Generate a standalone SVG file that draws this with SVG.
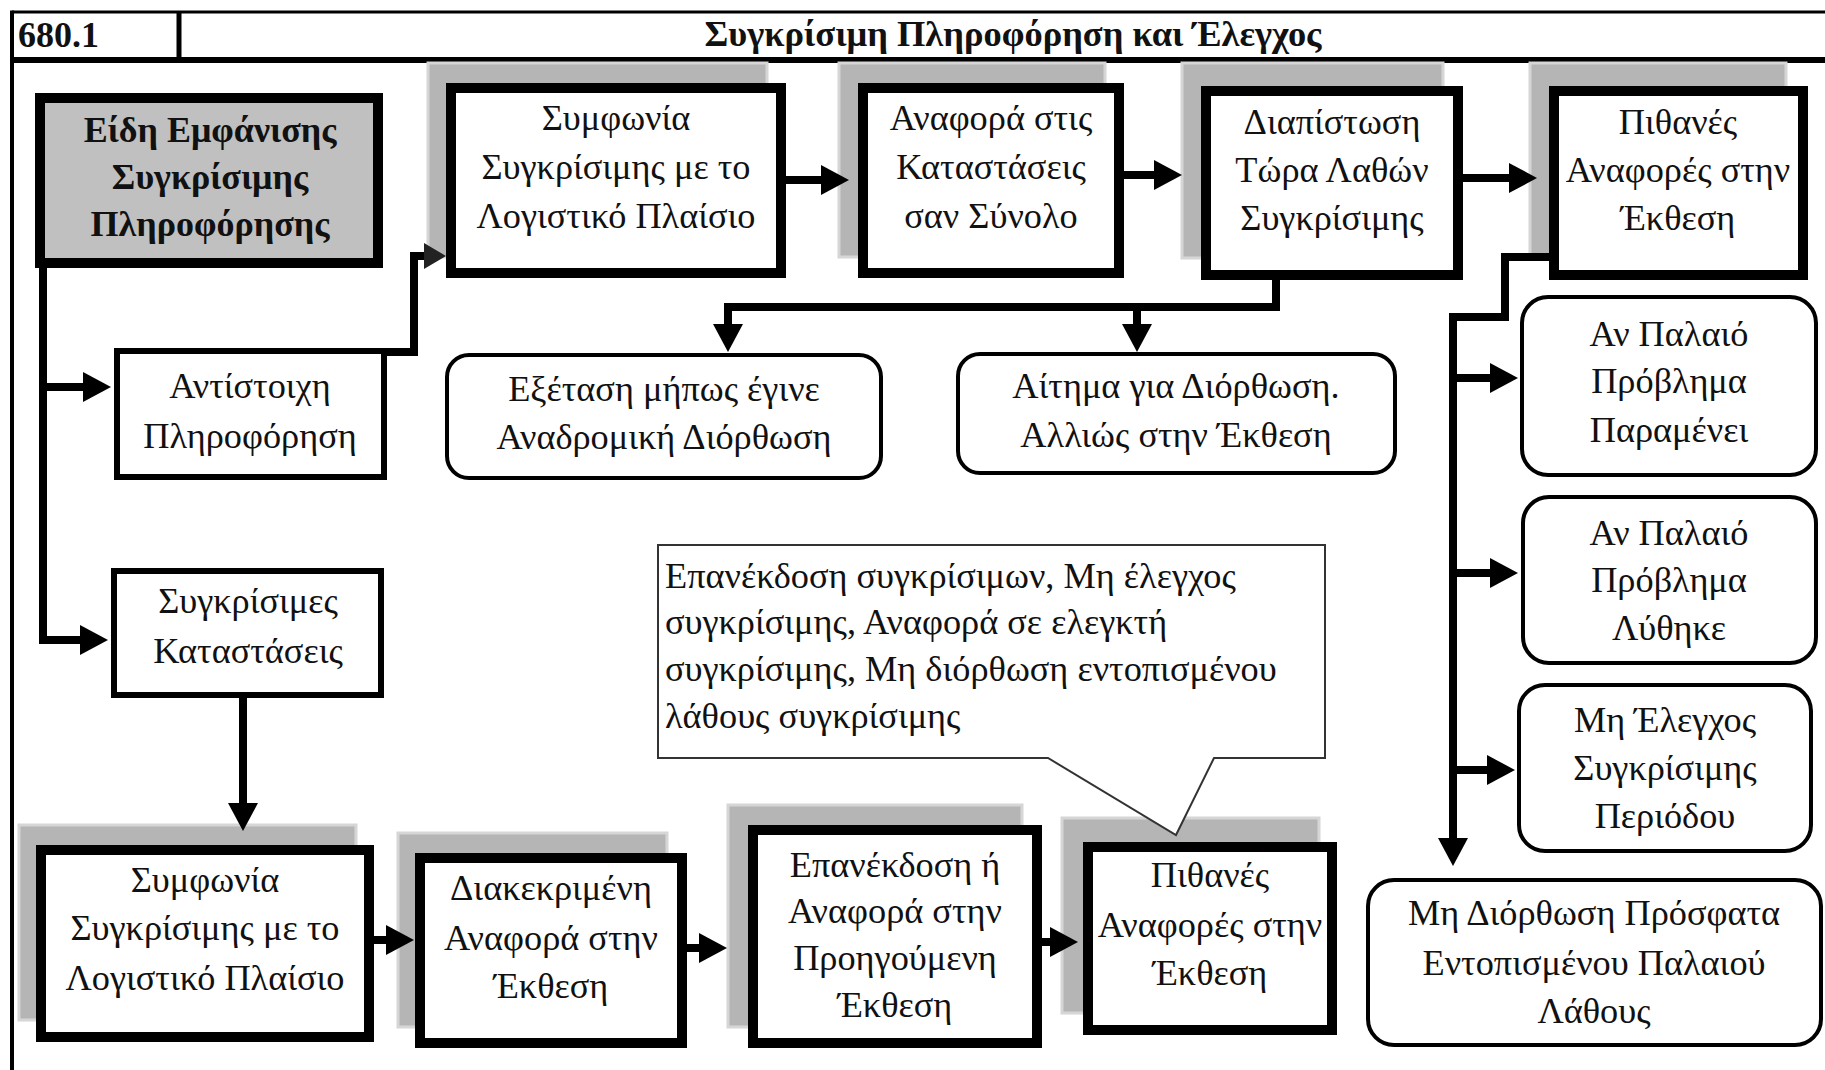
<svg xmlns="http://www.w3.org/2000/svg" width="1825" height="1070" viewBox="0 0 1825 1070">
<style>
.t{font-family:"Liberation Serif","Times New Roman",serif;font-size:36.3px;fill:#111;text-anchor:middle}
.b{font-weight:bold;font-size:36px}
.l{text-anchor:start}
.thick{fill:#fff;stroke:#000;stroke-width:10}
.sh{fill:#b5b5b5;stroke:#d6d6d6;stroke-width:3}
.rnd{fill:#fff;stroke:#000;stroke-width:4}
.pl{fill:#fff;stroke:#000;stroke-width:6}
.cn{fill:none;stroke:#000;stroke-width:8;stroke-linejoin:miter}
.frame{fill:none;stroke:#000}
</style>
<defs>
<marker id="ah" markerUnits="userSpaceOnUse" markerWidth="28" markerHeight="30" viewBox="0 0 28 30" refX="1" refY="15" orient="auto">
<path d="M0 0 L28 15 L0 30 Z" fill="#000"/>
</marker>
<marker id="ahs" markerUnits="userSpaceOnUse" markerWidth="22" markerHeight="26" viewBox="0 0 22 26" refX="1" refY="13" orient="auto">
<path d="M0 0 L22 13 L0 26 Z" fill="#222"/>
</marker>
</defs>
<rect width="1825" height="1070" fill="#fff"/>

<g id="header">
<line class="frame" x1="12" y1="12" x2="1825" y2="12" stroke-width="3"/>
<line class="frame" x1="12" y1="10.5" x2="12" y2="1070" stroke-width="4"/>
<line class="frame" x1="179" y1="12" x2="179" y2="60" stroke-width="5"/>
<line class="frame" x1="10" y1="60" x2="1825" y2="60" stroke-width="6"/>
<text class="t b l" x="18" y="47" font-size="34">680.1</text>
<text class="t b" x="1013" y="46" font-size="34" textLength="617" lengthAdjust="spacingAndGlyphs">Συγκρίσιμη Πληροφόρηση και Έλεγχος</text>
</g>

<g id="shadows">
<rect class="sh" x="428" y="63" width="339" height="194"/>
<rect class="sh" x="839" y="63" width="266" height="194"/>
<rect class="sh" x="1182" y="63" width="261" height="195"/>
<rect class="sh" x="1530" y="63" width="256" height="194"/>
<rect class="sh" x="19" y="825" width="337" height="195"/>
<rect class="sh" x="398" y="833" width="269" height="194"/>
<rect class="sh" x="728" y="805" width="294" height="222"/>
<rect class="sh" x="1062" y="818" width="257" height="195"/>
</g>

<g id="connectors">
<path class="cn" d="M43 266 V644"/>
<path class="cn" d="M43 387 H84" marker-end="url(#ah)"/>
<path class="cn" d="M43 640 H81" marker-end="url(#ah)"/>
<path class="cn" d="M384 352 H414 V256 H425" marker-end="url(#ahs)"/>
<path class="cn" d="M786 180 H822" marker-end="url(#ah)"/>
<path class="cn" d="M1124 175 H1155" marker-end="url(#ah)"/>
<path class="cn" d="M1463 178 H1510" marker-end="url(#ah)"/>
<path class="cn" d="M1276 280 V307 H728 V325" marker-end="url(#ah)"/>
<path class="cn" d="M1137 307 V325" marker-end="url(#ah)"/>
<path class="cn" d="M1549 257 H1505 V317 H1453 V839" marker-end="url(#ah)"/>
<path class="cn" d="M1453 378 H1491" marker-end="url(#ah)"/>
<path class="cn" d="M1453 573 H1491" marker-end="url(#ah)"/>
<path class="cn" d="M1453 770 H1488" marker-end="url(#ah)"/>
<path class="cn" d="M243 698 V804" marker-end="url(#ah)"/>
<path class="cn" d="M374 940 H387" marker-end="url(#ah)"/>
<path class="cn" d="M687 948 H700" marker-end="url(#ah)"/>
<path class="cn" d="M1042 942 H1051" marker-end="url(#ah)"/>
</g>

<g id="n-eidi">
<rect x="40" y="98" width="338" height="165" fill="#c0c0c0" stroke="#000" stroke-width="10"/>
<text class="t b" x="210" y="142">Είδη Εμφάνισης</text>
<text class="t b" x="210" y="189">Συγκρίσιμης</text>
<text class="t b" x="210" y="236">Πληροφόρησης</text>
</g>

<g id="n-symfonia-top">
<rect class="thick" x="451" y="88" width="330" height="185"/>
<text class="t" x="616" y="130">Συμφωνία</text>
<text class="t" x="616" y="179">Συγκρίσιμης με το</text>
<text class="t" x="616" y="228">Λογιστικό Πλαίσιο</text>
</g>

<g id="n-anafora-synolo">
<rect class="thick" x="863" y="88" width="256" height="185"/>
<text class="t" x="991" y="130">Αναφορά στις</text>
<text class="t" x="991" y="179">Καταστάσεις</text>
<text class="t" x="991" y="228">σαν Σύνολο</text>
</g>

<g id="n-diapistosi">
<rect class="thick" x="1206" y="91" width="252" height="184"/>
<text class="t" x="1332" y="134">Διαπίστωση</text>
<text class="t" x="1332" y="182">Τώρα Λαθών</text>
<text class="t" x="1332" y="230">Συγκρίσιμης</text>
</g>

<g id="n-pithanes-top">
<rect class="thick" x="1554" y="91" width="249" height="184"/>
<text class="t" x="1678" y="134">Πιθανές</text>
<text class="t" x="1678" y="182">Αναφορές στην</text>
<text class="t" x="1678" y="230">Έκθεση</text>
</g>

<g id="n-antistoixi">
<rect class="pl" x="117" y="351" width="267" height="126"/>
<text class="t" x="250" y="398">Αντίστοιχη</text>
<text class="t" x="250" y="448">Πληροφόρηση</text>
</g>

<g id="n-katastaseis">
<rect class="pl" x="114" y="571" width="267" height="124"/>
<text class="t" x="248" y="613">Συγκρίσιμες</text>
<text class="t" x="248" y="663">Καταστάσεις</text>
</g>

<g id="n-exetasi">
<rect class="rnd" x="447" y="355" width="434" height="123" rx="22"/>
<text class="t" x="664" y="401">Εξέταση μήπως έγινε</text>
<text class="t" x="664" y="449">Αναδρομική Διόρθωση</text>
</g>

<g id="n-aitima">
<rect class="rnd" x="958" y="354" width="437" height="119" rx="22"/>
<text class="t" x="1176" y="398">Αίτημα για Διόρθωση.</text>
<text class="t" x="1176" y="447">Αλλιώς στην Έκθεση</text>
</g>

<g id="n-paramenei">
<rect class="rnd" x="1522" y="297" width="294" height="178" rx="26"/>
<text class="t" x="1669" y="346">Αν Παλαιό</text>
<text class="t" x="1669" y="393">Πρόβλημα</text>
<text class="t" x="1669" y="442">Παραμένει</text>
</g>

<g id="n-lythike">
<rect class="rnd" x="1523" y="497" width="293" height="166" rx="26"/>
<text class="t" x="1669" y="545">Αν Παλαιό</text>
<text class="t" x="1669" y="592">Πρόβλημα</text>
<text class="t" x="1669" y="640">Λύθηκε</text>
</g>

<g id="n-mi-elegxos">
<rect class="rnd" x="1519" y="685" width="292" height="166" rx="26"/>
<text class="t" x="1665" y="732">Μη Έλεγχος</text>
<text class="t" x="1665" y="780">Συγκρίσιμης</text>
<text class="t" x="1665" y="828">Περιόδου</text>
</g>

<g id="n-mi-diorthosi">
<rect class="rnd" x="1368" y="880" width="453" height="165" rx="26"/>
<text class="t" x="1594" y="925">Μη Διόρθωση Πρόσφατα</text>
<text class="t" x="1594" y="975">Εντοπισμένου Παλαιού</text>
<text class="t" x="1594" y="1023">Λάθους</text>
</g>

<g id="n-symfonia-bottom">
<rect class="thick" x="41" y="850" width="328" height="187"/>
<text class="t" x="205" y="892">Συμφωνία</text>
<text class="t" x="205" y="940">Συγκρίσιμης με το</text>
<text class="t" x="205" y="990">Λογιστικό Πλαίσιο</text>
</g>

<g id="n-diakekrimeni">
<rect class="thick" x="420" y="858" width="262" height="185"/>
<text class="t" x="551" y="900">Διακεκριμένη</text>
<text class="t" x="551" y="950">Αναφορά στην</text>
<text class="t" x="551" y="998">Έκθεση</text>
</g>

<g id="n-epanekdosi">
<rect class="thick" x="753" y="830" width="284" height="213"/>
<text class="t" x="895" y="877">Επανέκδοση ή</text>
<text class="t" x="895" y="923">Αναφορά στην</text>
<text class="t" x="895" y="970">Προηγούμενη</text>
<text class="t" x="895" y="1017">Έκθεση</text>
</g>

<g id="n-pithanes-bottom">
<rect class="thick" x="1088" y="847" width="244" height="183"/>
<text class="t" x="1210" y="887">Πιθανές</text>
<text class="t" x="1210" y="937">Αναφορές στην</text>
<text class="t" x="1210" y="985">Έκθεση</text>
</g>

<g id="n-callout">
<path d="M658 545 H1325 V758 H1214 L1176 835 L1048 758 H658 Z" fill="#fff" stroke="#333" stroke-width="2"/>
<text class="t l" x="665" y="588">Επανέκδοση συγκρίσιμων, Μη έλεγχος</text>
<text class="t l" x="665" y="634">συγκρίσιμης, Αναφορά σε ελεγκτή</text>
<text class="t l" x="665" y="681">συγκρίσιμης, Μη διόρθωση εντοπισμένου</text>
<text class="t l" x="665" y="728">λάθους συγκρίσιμης</text>
</g>
</svg>
